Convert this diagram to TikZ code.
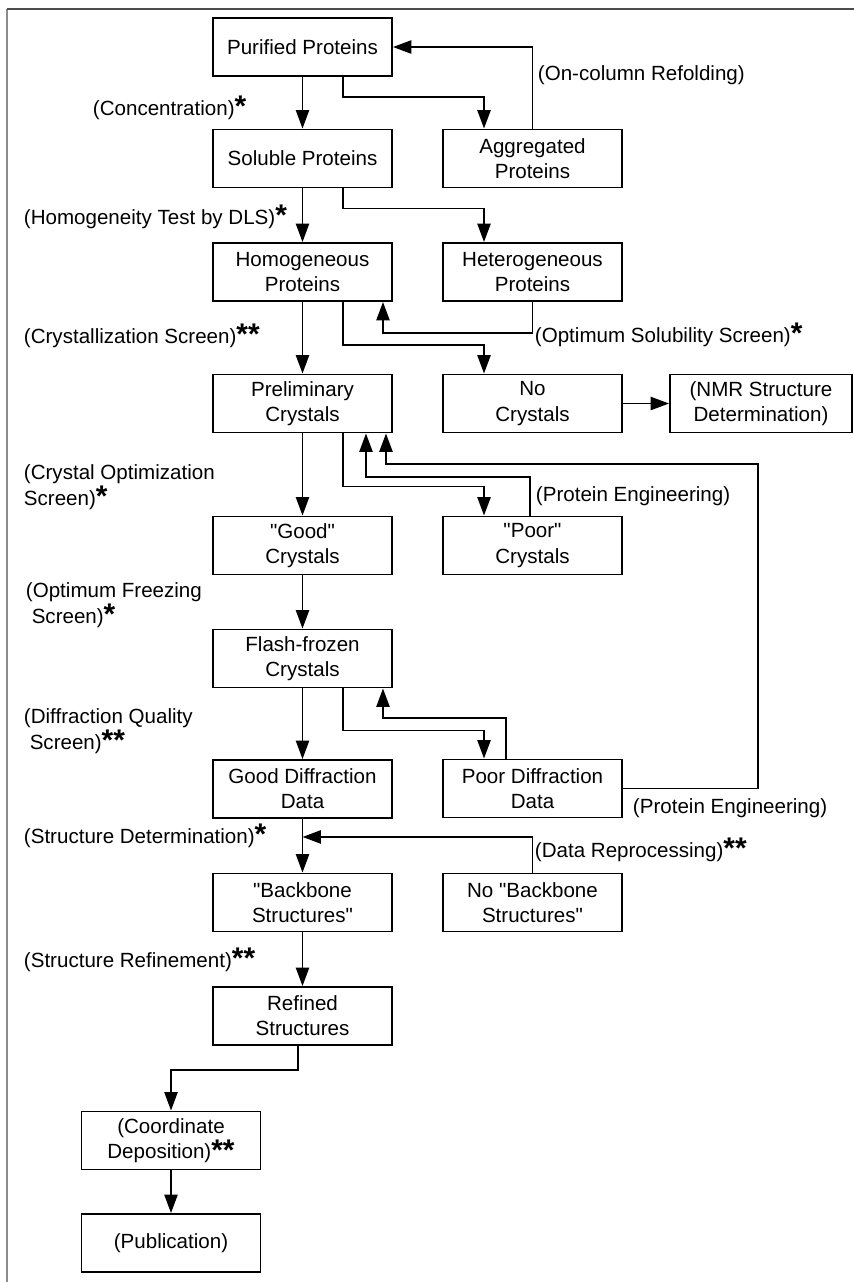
\documentclass[tikz,border=0pt]{standalone}
\usepackage{fontspec}
\setmainfont{Liberation Sans}[Ligatures=TeXOff]
\usetikzlibrary{arrows.meta}
\newcommand{\onestar}{\smash{\raisebox{-1pt}{\fontsize{17}{17}\selectfont\bfseries *}}}
\newcommand{\twostar}{\smash{\raisebox{-1pt}{\fontsize{17}{17}\selectfont\bfseries **}}}

\begin{document}
\begin{tikzpicture}[x=0.02cm, y=-0.02cm, line width=1.1pt, >={Triangle[length=10.5pt,width=7.5pt]}]
                \useasboundingbox (0,0) rectangle (854,1282);
                \draw[black!45, line width=1.2pt] (7,1282) -- (7,9);
                \draw[black!70, line width=1.2pt] (7,9) -- (854,9);
                \begin{scope}[every node/.style={draw, rectangle, minimum width=3.58cm, minimum height=1.16cm, inner sep=1pt, align=center, font=\fontsize{11.7}{14.3}\selectfont}]
                    \node (pur) at (302.5,47) {Purified Proteins};
                    \node (sol) at (302.5,158.5) {Soluble Proteins};
                    \node (hom) at (302.5,272) {Homogeneous\\Proteins};
                    \node (pre) at (302.5,403.5) {Preliminary\\Crystals};
                    \node (good) at (302.5,545.5) {"Good"\\Crystals};
                    \node (fla) at (302.5,658.5) {Flash-frozen\\Crystals};
                    \node (gdif) at (302.5,789) {Good Diffraction\\Data};
                    \node (bb) at (302.5,902.5) {"Backbone\\Structures"};
                    \node (ref) at (302.5,1016) {Refined\\Structures};
                    \node (coo) at (171,1140.5) {(Coordinate\\Deposition)\twostar};
                    \node (pub) at (171,1243) {(Publication)};
                    \node (agg) at (532.5,158.5) {Aggregated\\Proteins};
                    \node (het) at (532.5,272) {Heterogeneous\\Proteins};
                    \node (nocr) at (532.5,403.5) {No\\Crystals};
                    \node (poor) at (532.5,545.5) {"Poor"\\Crystals};
                    \node (pdif) at (532.5,788.5) {Poor Diffraction\\Data};
                    \node (nobb) at (532.5,902.5) {No "Backbone\\Structures"};
                    \node [minimum width=3.64cm] (nmr) at (761,403.5) {(NMR Structure\\Determination)};
                \end{scope}
                \begin{scope}[every node/.style={anchor=base west, inner sep=0pt, align=left, font=\fontsize{11.7}{14.3}\selectfont}]
                    \node (refold) at (537,80) {(On-column Refolding)};
                    \node (conc) at (92,115) {(Concentration)\onestar};
                    \node (dls) at (23,224) {(Homogeneity Test by DLS)\onestar};
                    \node (cscr) at (23,343) {(Crystallization Screen)\twostar};
                    \node (solscr) at (534,342) {(Optimum Solubility Screen)\onestar};
                    \node (opt) at (23,505) {(Crystal Optimization\\Screen)\onestar};
                    \node (eng1) at (535,501) {(Protein Engineering)};
                    \node (frz) at (25,623) {(Optimum Freezing\\\hspace*{3.3pt}Screen)\onestar};
                    \node (dq) at (23,749) {(Diffraction Quality\\\hspace*{3.3pt}Screen)\twostar};
                    \node (eng2) at (632,813) {(Protein Engineering)};
                    \node (sdet) at (23,843) {(Structure Determination)\onestar};
                    \node (repr) at (534,857) {(Data Reprocessing)\twostar};
                    \node (sref) at (23,967) {(Structure Refinement)\twostar};
                \end{scope}
                % main line
                \draw (pur) edge [->] (sol);
                \draw (sol) edge [->] (hom);
                \draw (hom) edge [->] (pre);
                \draw (pre) edge [->] (good);
                \draw (good) edge [->] (fla);
                \draw (fla) edge [->] (gdif);
                \draw (gdif) edge [->] (bb);
                \draw (bb) edge [->] (ref);
                \draw (coo) edge [->] (pub);
                \draw (nocr) edge [->] (nmr);
                % side branches
                \draw[->] ([xshift=.81cm]pur.south) -- ++(0,20) -| ([xshift=-.97cm]agg.north);
                \draw[->] (agg.north) |- (pur.east);
                \draw[->] ([xshift=.81cm]sol.south) -- ++(0,20) -| ([xshift=-.97cm]het.north);
                \draw[->] (het.south) -- ++(0,31) -| ([xshift=1.61cm]hom.south);
                \draw[->] ([xshift=.81cm]hom.south) -- ++(0,43) -| ([xshift=-.97cm]nocr.north);
                \draw[->] ([xshift=.81cm]pre.south) -- ++(0,53) -| ([xshift=-.97cm]poor.north);
                \draw[->] ([xshift=-.05cm]poor.north) -- ++(0,-39) -| ([xshift=1.27cm]pre.south);
                \draw[->] (pdif.east) -- ++(135,0) -- ++(0,-324.5) -| ([xshift=1.67cm]pre.south);
                \draw[->] ([xshift=.81cm]fla.south) -- ++(0,42) -| ([xshift=-.97cm]pdif.north);
                \draw[->] ([xshift=-.53cm]pdif.north) -- ++(0,-41) -| ([xshift=1.61cm]fla.south);
                \draw[->] (nobb.north) |- ([yshift=-.36cm]gdif.south);
                \draw[->] ([xshift=-.09cm]ref.south) -- ++(0,24) -| (coo.north);
            \end{tikzpicture}
\end{document}
